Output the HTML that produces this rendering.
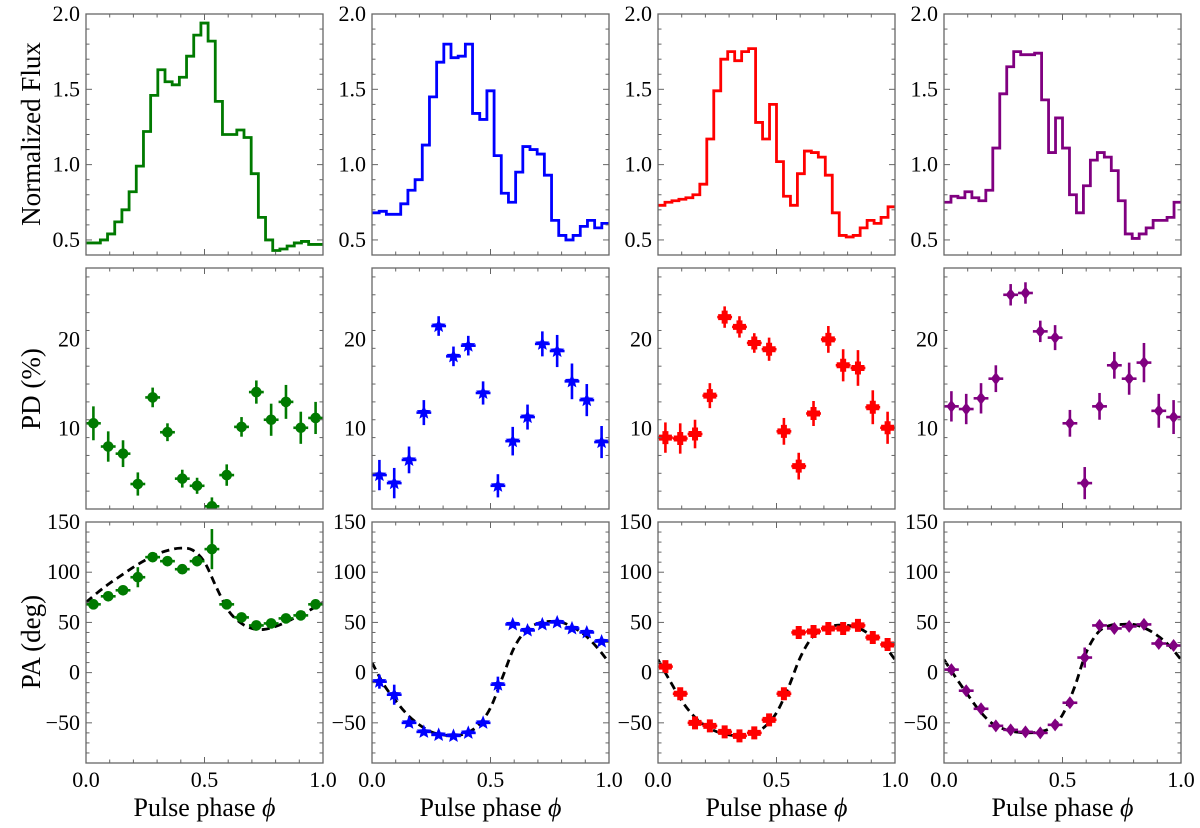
<!DOCTYPE html>
<html><head><meta charset="utf-8"><style>
html,body{margin:0;padding:0;background:#fff;}
svg{display:block;}
text{font-family:"Liberation Serif","DejaVu Serif",serif;}
</style></head><body>
<svg id="fig" width="1200" height="828" viewBox="0 0 1200 828" xmlns="http://www.w3.org/2000/svg" font-family="'Liberation Serif', 'DejaVu Serif', serif"></svg>
<script>
// ---- data ----
const colors = ["#007a00","#0000ff","#ff0000","#800080"];
const markers = ["circle","star","plus","diamond"];
const fluxGreen = [0.48,0.48,0.50,0.54,0.62,0.70,0.82,0.99,1.22,1.46,1.63,1.55,1.53,1.58,1.72,1.86,1.94,1.82,1.42,1.20,1.20,1.23,1.18,0.94,0.65,0.50,0.43,0.44,0.46,0.48,0.49,0.47,0.47];
const fluxBlue = [0.68,0.69,0.67,0.67,0.74,0.83,0.90,1.13,1.45,1.68,1.80,1.71,1.72,1.80,1.34,1.30,1.49,1.06,0.81,0.75,0.95,1.12,1.10,1.07,0.93,0.63,0.53,0.50,0.53,0.59,0.63,0.58,0.61];
const fluxRed = [0.73,0.75,0.76,0.77,0.78,0.80,0.87,1.17,1.49,1.70,1.75,1.69,1.75,1.77,1.28,1.17,1.40,1.02,0.79,0.73,0.94,1.09,1.08,1.05,0.93,0.68,0.53,0.52,0.53,0.58,0.63,0.61,0.65,0.72];
const fluxPurple = [0.75,0.79,0.78,0.82,0.78,0.76,0.83,1.11,1.47,1.65,1.75,1.73,1.73,1.74,1.43,1.08,1.31,1.11,0.80,0.68,0.86,1.03,1.08,1.05,0.96,0.76,0.54,0.51,0.54,0.58,0.63,0.63,0.65,0.75];

const pdGreen = [10.6,8.0,7.2,3.8,13.5,9.6,4.4,3.6,1.3,4.8,10.2,14.1,11.0,13.0,10.1,11.2];
const pdGreenErr = [1.9,1.7,1.5,1.3,1.1,1.0,1.0,0.9,1.0,1.2,1.1,1.3,1.8,1.9,1.8,1.8];
const pdBlue = [4.8,3.9,6.5,11.8,21.5,18.1,19.3,14.0,3.6,8.6,11.3,19.5,18.7,15.3,13.2,8.5];
const pdBlueErr = [1.7,1.7,1.5,1.4,1.1,1.1,1.1,1.3,1.3,1.6,1.4,1.4,1.8,2.0,1.8,1.8];
const pdRed = [9.0,8.9,9.4,13.7,22.5,21.4,19.6,18.9,9.7,5.8,11.7,20.0,17.1,16.8,12.4,10.1];
const pdRedErr = [1.7,1.7,1.6,1.4,1.2,1.2,1.1,1.3,1.5,1.5,1.4,1.5,1.8,2.0,1.9,1.8];
const pdPurple = [12.5,12.2,13.4,15.6,25.0,25.2,20.9,20.2,10.6,3.9,12.5,17.1,15.6,17.4,12.0,11.3];
const pdPurpleErr = [1.7,1.7,1.7,1.5,1.2,1.2,1.2,1.4,1.5,1.8,1.5,1.5,1.8,2.2,1.9,1.9];

const paGreen = [68,76,82,95,115,111,103,111,123,68,55,47,49,54,57,68];
const paGreenErr = [3,4,4,10,3,3,4,5,20,5,3,3,3,3,3,3];
const paBlue = [-9,-22,-50,-59,-62,-63,-60,-50,-12,48,42,48,50,44,40,31];
const paBlueErr = [7,10,4,3,3,3,3,3,8,3,3,3,3,3,3,3];
const paRed = [6,-21,-50,-53,-59,-63,-60,-47,-21,40,41,44,44,47,35,28];
const paRedErr = [3,3,3,3,3,3,3,3,4,6,3,3,3,3,3,3];
const paPurple = [3,-18,-36,-53,-57,-59,-60,-52,-30,15,47,44,46,48,29,27];
const paPurpleErr = [3,3,4,3,3,3,3,3,4,10,3,3,3,3,3,3];

const modelPhase = [0,0.05,0.1,0.15,0.2,0.25,0.3,0.35,0.4,0.45,0.5,0.55,0.6,0.65,0.7,0.75,0.8,0.85,0.9,0.95,1.0];
const modelGreen = [70,80,89,97,105,112,118,122,124,122,110,85,62,50,44,43,46,51,57,63,70];
const modelBlue = [10,-12,-28,-42,-52,-59,-62,-63,-60,-52,-35,-5,25,42,49,51,50,45,37,25,10];
const modelRed = [13,-8,-28,-43,-53,-59,-62,-63,-61,-54,-40,-15,15,35,43,47,47,44,37,28,13];
const modelPurple = [13,-5,-22,-38,-50,-56,-59,-60,-59,-55,-42,-15,20,40,47,48,48,44,37,27,13];

const fluxTicks = ["0.5","1.0","1.5","2.0"];
const pdTicks = ["10","20"];
const paTicks = ["-50","0","50","100","150"];
const xTicks = ["0.0","0.5","1.0"];

const fluxSeries=[fluxGreen,fluxBlue,fluxRed,fluxPurple];
const pdSeries=[pdGreen,pdBlue,pdRed,pdPurple];
const pdErrs=[pdGreenErr,pdBlueErr,pdRedErr,pdPurpleErr];
const paSeries=[paGreen,paBlue,paRed,paPurple];
const paErrs=[paGreenErr,paBlueErr,paRedErr,paPurpleErr];
const models=[modelGreen,modelBlue,modelRed,modelPurple];

// ---- layout ----
const NS="http://www.w3.org/2000/svg";
const FONT="'Liberation Serif', 'DejaVu Serif', serif";
const svg=document.getElementById('fig');
const colX=[86,372,658,944], W=237;
const rowY=[14,268,522], H=241;
const rows=[{lo:0.4,hi:2.0,major:0.5,minor:0.1,labels:fluxTicks},
            {lo:1,hi:28,major:10,minor:2,labels:pdTicks},
            {lo:-90,hi:150,major:50,minor:10,labels:paTicks}];
function el(tag,attrs,parent){const e=document.createElementNS(NS,tag);for(const k in attrs)e.setAttribute(k,attrs[k]);(parent||svg).appendChild(e);return e;}

function markerShape(g,type,cx,cy,color){
  let s;
  if(type==='circle'){s=el('circle',{cx:cx,cy:cy,r:5.3,fill:color},g);}
  else if(type==='diamond'){s=el('polygon',{points:`${cx},${cy-6.5} ${cx+5},${cy} ${cx},${cy+6.5} ${cx-5},${cy}`,fill:color},g);}
  else if(type==='plus'){const a=3,b=6.5;s=el('polygon',{points:`${cx-a},${cy-b} ${cx+a},${cy-b} ${cx+a},${cy-a} ${cx+b},${cy-a} ${cx+b},${cy+a} ${cx+a},${cy+a} ${cx+a},${cy+b} ${cx-a},${cy+b} ${cx-a},${cy+a} ${cx-b},${cy+a} ${cx-b},${cy-a} ${cx-a},${cy-a}`,fill:color},g);}
  else {let p=[];for(let i=0;i<10;i++){const r=i%2?3.3:7.5;const an=-Math.PI/2+i*Math.PI/5;p.push((cx+r*Math.cos(an)).toFixed(1)+','+(cy+r*Math.sin(an)).toFixed(1));}s=el('polygon',{points:p.join(' '),fill:color},g);}
  return s;
}

for(let r=0;r<3;r++){
  const R=rows[r];
  for(let c=0;c<4;c++){
    const x0=colX[c], y0=rowY[r];
    const sx=v=>x0+v*W, sy=v=>y0+H-(v-R.lo)/(R.hi-R.lo)*H;
    const g=el('g',{});
    
    
    const clipId='clip'+r+c;
    const cp=el('clipPath',{id:clipId},g);el('rect',{x:x0,y:y0,width:W,height:H},cp);
    const data=el('g',{'clip-path':`url(#${clipId})`},g);
    if(r===0){
      const arr=fluxSeries[c], n=arr.length;
      let d='';
      arr.forEach((v,i)=>{const xa=sx(i/n),xb=sx((i+1)/n),y=sy(v);d+=(i===0?`M${xa},${y}`:`L${xa},${y}`)+`L${xb},${y}`;});
      const p=el('path',{d:d,fill:'none',stroke:colors[c],'stroke-width':2.8},data);
      
      
    } else {
      const vals=r===1?pdSeries[c]:paSeries[c], errs=r===1?pdErrs[c]:paErrs[c], n=vals.length;
      if(r===2){
        const m=models[c];
        let pts=modelPhase.map((ph,i)=>[sx(ph),sy(m[i])]);
        let d='M'+pts[0][0]+','+pts[0][1];
        for(let i=0;i<pts.length-1;i++){const p0=pts[Math.max(0,i-1)],p1=pts[i],p2=pts[i+1],p3=pts[Math.min(pts.length-1,i+2)];
          d+=`C${p1[0]+(p2[0]-p0[0])/6},${p1[1]+(p2[1]-p0[1])/6} ${p2[0]-(p3[0]-p1[0])/6},${p2[1]-(p3[1]-p1[1])/6} ${p2[0]},${p2[1]}`;}
        const ml=el('path',{d:d,fill:'none',stroke:'#000','stroke-width':2.8,'stroke-dasharray':'8,5'},data);
        
        
      }
      vals.forEach((v,i)=>{
        const ph=(i+0.5)/n, cx=sx(ph), cy=sy(v);
        const pg=el('g',{},data);
        
        
        el('line',{x1:cx,x2:cx,y1:sy(v-errs[i]),y2:sy(v+errs[i]),stroke:colors[c],'stroke-width':2.6},pg);
        el('line',{x1:sx(ph-0.5/n),x2:sx(ph+0.5/n),y1:cy,y2:cy,stroke:colors[c],'stroke-width':2.6},pg);
        markerShape(pg,markers[c],cx,cy,colors[c]);
      });
    }
    // ticks
    for(let t=0;t<=10;t++){const x=sx(t/10),len=(t%5===0)?6:3.5;
      el('line',{x1:x,x2:x,y1:y0+H,y2:y0+H-len,stroke:'#666','stroke-width':1},g);
      el('line',{x1:x,x2:x,y1:y0,y2:y0+len,stroke:'#666','stroke-width':1},g);}
    const nmin=Math.round((R.hi-R.lo)/R.minor);
    for(let k=0;k<=nmin;k++){const v=R.lo+k*R.minor;const isMaj=Math.abs(v/R.major-Math.round(v/R.major))<1e-6;const y=sy(v),len=isMaj?6:3.5;
      if(y<y0-0.5||y>y0+H+0.5)continue;
      el('line',{x1:x0,x2:x0+len,y1:y,y2:y,stroke:'#666','stroke-width':1},g);
      el('line',{x1:x0+W,x2:x0+W-len,y1:y,y2:y,stroke:'#666','stroke-width':1},g);}
    R.labels.forEach(lb=>{const v=parseFloat(lb);const t=el('text',{x:x0-6,y:sy(v)+7,'text-anchor':'end','font-size':22,'font-family':FONT,fill:'#000'},g);t.textContent=lb.replace('-','\u2212');
      
      });
    el('rect',{x:x0,y:y0,width:W,height:H,fill:'none',stroke:'#666','stroke-width':1.3},g);
    if(r===2){
      xTicks.forEach(lb=>{const t=el('text',{x:sx(parseFloat(lb)),y:787,'text-anchor':'middle','font-size':22,'font-family':FONT,fill:'#000'},g);t.textContent=lb;
        
        });
      const xl=el('text',{x:x0+W/2,y:816,'text-anchor':'middle','font-size':26,'font-family':FONT,fill:'#000'},g);
      xl.textContent='Pulse phase ';
      const ts=el('tspan',{'font-style':'italic'},xl);ts.textContent='\u03D5';
      
      
    }
  }
}
const ylabels=[['Normalized Flux',134],['PD (%)',389],['PA (deg)',642]];
ylabels.forEach(([txt,y])=>{const t=el('text',{x:0,y:0,transform:`translate(40,${y}) rotate(-90)`,'text-anchor':'middle','font-size':27,'font-family':FONT,fill:'#000'});t.textContent=txt;
  
  });
</script>
</body></html>
